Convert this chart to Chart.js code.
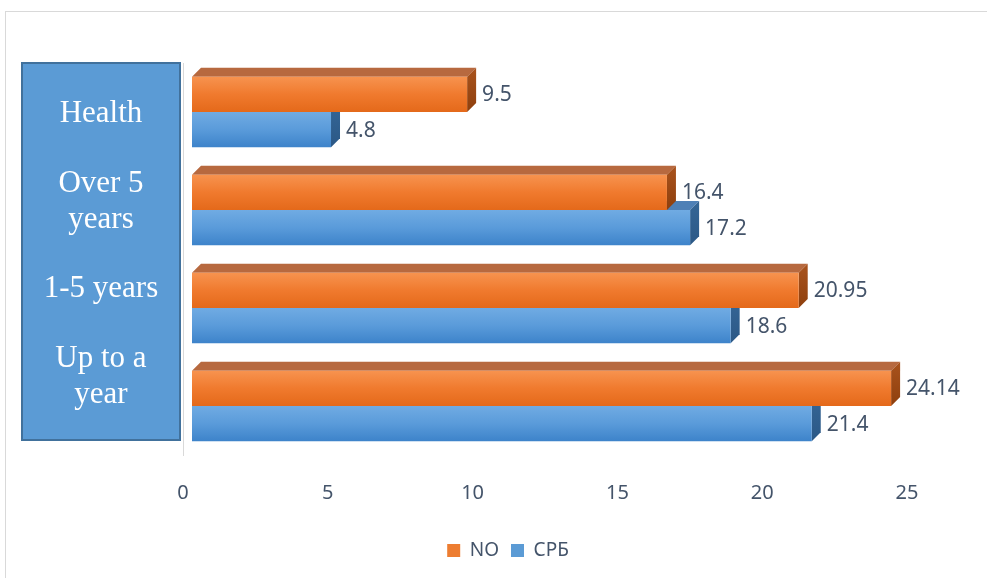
<!DOCTYPE html>
<html>
<head>
<meta charset="utf-8">
<title>Bars</title>
<script src="https://cdn.jsdelivr.net/npm/chart.js@4.4.0/dist/chart.umd.min.js"></script>
<style>
  html, body { margin: 0; padding: 0; background: #fff; overflow: hidden; }
  #frame { position: absolute; left: 5px; top: 11px; width: 1200px; height: 900px; border: 1px solid #D9D9D9; box-sizing: border-box; }
  #wrap { position: absolute; left: 0; top: 0; width: 987px; height: 578px; }
</style>
</head>
<body>
<div id="frame"></div>
<div id="wrap"><canvas id="trendCanvas" width="987" height="578"></canvas></div>
<script>
// ---- data ----
const categories = ['Health', ['Over 5', 'years'], '1-5 years', ['Up to a', 'year']];
const seriesNames = ['NO', 'СРБ'];
const noValues = [9.5, 16.4, 20.95, 24.14];
const srbValues = [4.8, 17.2, 18.6, 21.4];
const xMin = 0, xMax = 25, xStep = 5;

// ---- look ----
const DEPTH = 9;   // 3d depth of the bars
const SHIFT = 9;   // front face sits right of the axis
const TEXT = '#44546A';
const faces = [
  { solid: '#ED7D31', front: ['#F7934F', '#F07A2E', '#E4691A'], top: '#B7693F', side: ['#A9531D', '#8E3F0D'] },
  { solid: '#5B9BD5', front: ['#70ABE3', '#5A9BDA', '#3D83CA'], top: '#4E80B6', side: ['#356696', '#2B5886'] }
];

const bars3d = {
  id: 'bars3d',
  beforeDatasetsDraw(chart) {
    const ctx = chart.ctx;
    // lower series first so the upper one covers its top face
    for (let d = chart.data.datasets.length - 1; d >= 0; d--) {
      const f = faces[d];
      chart.getDatasetMeta(d).data.forEach(bar => {
        const left = bar.base + SHIFT, right = bar.x + SHIFT;
        const top = bar.y - bar.height / 2, bottom = bar.y + bar.height / 2;

        ctx.save();
        ctx.fillStyle = f.top;
        ctx.beginPath();
        ctx.moveTo(left, top);
        ctx.lineTo(left + DEPTH, top - DEPTH);
        ctx.lineTo(right + DEPTH, top - DEPTH);
        ctx.lineTo(right, top);
        ctx.closePath();
        ctx.fill();

        const sg = ctx.createLinearGradient(0, top - DEPTH, 0, bottom);
        sg.addColorStop(0, f.side[0]);
        sg.addColorStop(1, f.side[1]);
        ctx.fillStyle = sg;
        ctx.beginPath();
        ctx.moveTo(right, top);
        ctx.lineTo(right + DEPTH, top - DEPTH);
        ctx.lineTo(right + DEPTH, bottom - DEPTH);
        ctx.lineTo(right, bottom);
        ctx.closePath();
        ctx.fill();
        ctx.restore();

        // front face gradient, per bar
        const fg = ctx.createLinearGradient(0, top, 0, bottom);
        fg.addColorStop(0, f.front[0]);
        fg.addColorStop(0.5, f.front[1]);
        fg.addColorStop(1, f.front[2]);
        bar.options.backgroundColor = fg;
      });
    }
  },
  beforeDatasetDraw(chart) {
    chart.ctx.save();
    chart.ctx.translate(SHIFT, 0);
  },
  afterDatasetDraw(chart) {
    chart.ctx.restore();
  },
  afterDatasetsDraw(chart) {
    const ctx = chart.ctx;
    ctx.save();
    ctx.font = '21px "Noto Sans"';
    ctx.fillStyle = TEXT;
    ctx.textAlign = 'left';
    ctx.textBaseline = 'middle';
    chart.data.datasets.forEach((ds, d) => {
      chart.getDatasetMeta(d).data.forEach((bar, i) => {
        ctx.fillText(String(ds.data[i]), bar.x + SHIFT + 15, bar.y + 1);
      });
    });
    ctx.restore();
  },
  afterDraw(chart) {
    // blue label box on the left
    const ctx = chart.ctx, a = chart.chartArea;
    const bx = a.left - 161, by = a.top, bw = 158, bh = a.bottom - a.top - 15;
    ctx.save();
    ctx.fillStyle = '#5B9BD5';
    ctx.fillRect(bx, by, bw, bh);
    ctx.strokeStyle = '#41719C';
    ctx.lineWidth = 2;
    ctx.strokeRect(bx, by, bw, bh);

    ctx.fillStyle = '#FFFFFF';
    ctx.font = '31px "Liberation Serif"';
    ctx.textAlign = 'center';
    ctx.textBaseline = 'middle';
    categories.forEach((c, i) => {
      const lines = Array.isArray(c) ? c : [c];
      const cy = by + 51 + i * 87.5;
      lines.forEach((ln, k) => {
        ctx.fillText(ln, bx + bw / 2, cy + (k - (lines.length - 1) / 2) * 36);
      });
    });
    ctx.restore();
  }
};

const chart = new Chart(document.getElementById('trendCanvas'), {
  type: 'bar',
  data: {
    labels: categories,
    datasets: [
      { label: seriesNames[0], data: noValues, backgroundColor: () => faces[0].solid, borderWidth: 0, clip: false },
      { label: seriesNames[1], data: srbValues, backgroundColor: () => faces[1].solid, borderWidth: 0, clip: false }
    ]
  },
  options: {
    indexAxis: 'y',
    responsive: false,
    animation: false,
    categoryPercentage: 0.72,
    barPercentage: 1,
    layout: { padding: { left: 109, right: 80, top: 63, bottom: 8 } },
    scales: {
      x: {
        min: xMin, max: xMax,
        ticks: { stepSize: xStep, color: TEXT, font: { family: 'Noto Sans', size: 20 }, padding: 26 },
        grid: { display: false, drawTicks: false },
        border: { display: false },
        afterFit(s) { s.height = 74; }
      },
      y: {
        ticks: { display: false },
        grid: { display: false, drawTicks: false },
        border: { color: '#D9D9D9', width: 1 },
        afterFit(s) { s.width = 74; }
      }
    },
    plugins: {
      legend: {
        position: 'bottom',
        labels: {
          boxWidth: 13, boxHeight: 13, padding: 12,
          color: TEXT, font: { family: 'Noto Sans', size: 19 }
        }
      },
      tooltip: { enabled: false }
    }
  },
  plugins: [bars3d]
});
</script>
</body>
</html>
